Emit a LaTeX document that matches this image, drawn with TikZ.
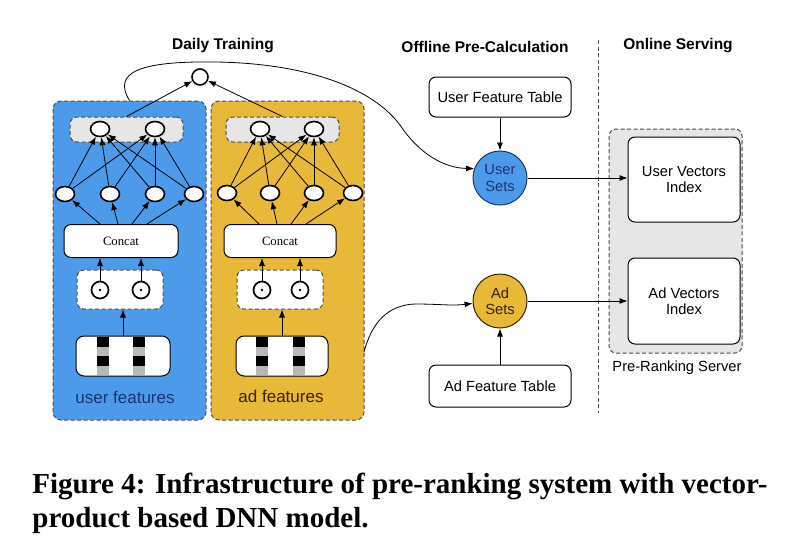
\documentclass[tikz,border=0pt]{standalone}
\usepackage{fontspec}
\setmainfont{Liberation Sans}
\newfontfamily\capfont{Liberation Serif}
\usetikzlibrary{positioning,shapes.geometric,arrows.meta}
\definecolor{userblue}{RGB}{76,155,234}
\definecolor{adyellow}{RGB}{232,184,56}
\definecolor{boxgray}{RGB}{230,230,230}
\definecolor{usertext}{RGB}{28,52,110}
\definecolor{adtext}{RGB}{50,36,10}
\begin{document}
\begin{tikzpicture}[x=1pt, y=-1pt, >={Latex[length=8pt,width=6pt]}, line width=0.8pt,
    panel/.style = {draw=black!70, dash pattern=on 4pt off 2.5pt, rounded corners=8pt, line width=1pt},
    grp/.style = {panel, fill=boxgray, rounded corners=7pt},
    neuron/.style = {draw, ellipse, fill=white, line width=1.6pt, minimum width=19pt, minimum height=15pt, inner sep=0pt},
    dotnode/.style = {draw, circle, fill=white, line width=1.7pt, minimum size=17pt, inner sep=0pt},
    box/.style = {draw, rounded corners=7pt, fill=white, line width=1pt, align=center, font=\fontsize{14.7}{16.5}\selectfont},
    setnode/.style = {draw, circle, line width=1pt, minimum size=54pt, inner sep=0pt, align=center, font=\fontsize{14.7}{16.5}\selectfont},
    title/.style = {font=\bfseries\fontsize{15.5}{18}\selectfont},
    captxt/.style = {anchor=base west, inner sep=0pt, font=\capfont\bfseries\fontsize{29}{35}\selectfont}]
    \useasboundingbox (0,0) rectangle (794,541);

    % daily training
    \node[title] (dt) at (223,46) {Daily Training};
    \node[panel, fill=userblue, minimum width=153pt, minimum height=319pt] (up) at (129.5,260.5) {};
    \node[panel, fill=adyellow, minimum width=153pt, minimum height=319pt] (ap) at (287.5,260.5) {};
    \node[grp, minimum width=113pt, minimum height=25pt] (gu) at (126.5,129.5) {};
    \node[grp, minimum width=113pt, minimum height=25pt] (ga) at (282.5,129.5) {};
    \node[neuron, minimum width=16pt, minimum height=16pt] (out) at (200,77) {};
    \node[neuron] (tu1) at (100,129) {};
    \node[neuron] (tu2) at (155,129) {};
    \node[neuron] (ta1) at (260,129) {};
    \node[neuron] (ta2) at (314,129) {};
    \foreach \k/\x in {1/65,2/110,3/155,4/194}
        \node[neuron] (hu\k) at (\x,194) {};
    \foreach \k/\x in {1/227,2/270,3/314,4/353}
        \node[neuron] (ha\k) at (\x,193) {};
    \node[box, font=\capfont\fontsize{12.7}{14}\selectfont, minimum width=114pt, minimum height=33pt] (cu) at (121,241) {Concat};
    \node[box, font=\capfont\fontsize{12.7}{14}\selectfont, minimum width=112pt, minimum height=33pt] (ca) at (280,241) {Concat};
    \node[panel, fill=white, rounded corners=7pt, minimum width=86pt, minimum height=39pt] (bu) at (120,289.5) {};
    \node[panel, fill=white, rounded corners=7pt, minimum width=86pt, minimum height=39pt] (ba) at (280,289.5) {};
    \node[dotnode] (du1) at (100,290) {};
    \node[dotnode] (du2) at (141,290) {};
    \node[dotnode] (da1) at (262,290) {};
    \node[dotnode] (da2) at (300,290) {};
    \foreach \d in {du1,du2,da1,da2}
        \fill (\d) circle (1.3pt);
    \node[box, rounded corners=8pt, minimum width=94pt, minimum height=40pt] (fu) at (123,356) {};
    \node[box, rounded corners=8pt, minimum width=92pt, minimum height=40pt] (fa) at (282,356) {};
    \foreach \x in {103,139,262,299}
        \foreach \y/\c in {337/black,346.5/black!28,356/black,365.5/black!28}
            \fill[\c] (\x-6,\y) rectangle (\x+6,\y+9.5);
    \node[font=\fontsize{17}{20}\selectfont, text=usertext] (lu) at (125,397) {user features};
    \node[font=\fontsize{17}{20}\selectfont, text=adtext] (la) at (281,396) {ad features};

    \draw[->] (fu.north) -- (fu.north |- bu.south);
    \draw[->] (fa.north) -- (fa.north |- ba.south);
    \foreach \s in {u,a} {
        \draw[->] (d\s1.north) -- (d\s1 |- c\s.south);
        \draw[->] (d\s2.north) -- (d\s2 |- c\s.south);
        \foreach \k/\dx in {1/-21,2/-3,3/11,4/26}
            \draw[->] ([xshift=\dx pt]c\s.north) -- (h\s\k);
        \foreach \k in {1,...,4}
            \foreach \t in {1,2}
                \draw[->] (h\s\k) -- (t\s\t);
        \draw[->] (g\s.north) -- (out);
    }

    % offline pre-calculation
    \node[title] (opc) at (485,47) {Offline Pre-Calculation};
    \node[box, minimum width=142pt, minimum height=40pt] (uft) at (500,97) {User Feature Table};
    \node[setnode, fill=userblue, draw=usertext, text=usertext] (us) at (500,178) {User\\Sets};
    \node[setnode, fill=adyellow, draw=adtext, text=adtext] (as) at (500,301) {Ad\\Sets};
    \node[box, minimum width=142pt, minimum height=42pt] (aft) at (500,386) {Ad Feature Table};
    \coordinate (ya) at (364,352);

    \draw[->] (uft) -- (us);
    \draw[->] (aft) -- (as);
    \draw[->] (up.north) .. controls (112,72) and (140,61) .. (215,62)
        .. controls (300,63) and (370,85) .. (400,125)
        .. controls (420,155) and (445,168) .. (us.160);
    \draw[->] (ya) .. controls (372,322) and (388,305) .. (415,304)
        .. controls (440,304) and (452,306) .. (as.185);

    % online serving
    \draw[dash pattern=on 4pt off 2.5pt, line width=0.8pt, black!70] (598,40) -- (598,413);
    \node[title] (os) at (678,46) {Online Serving};
    \node[grp, minimum width=133pt, minimum height=224pt] (srv) at (675.5,241) {};
    \node[box, minimum width=112pt, minimum height=85pt] (uvi) at (684,179.5) {User Vectors\\Index};
    \node[box, minimum width=112pt, minimum height=86pt] (avi) at (684,301) {Ad Vectors\\Index};
    \node[font=\fontsize{14.7}{16.5}\selectfont] (srvl) at (677,368) {Pre-Ranking Server};

    \draw[->] (us) -- (us -| uvi.west);
    \draw[->] (as) -- (as -| avi.west);

    \node[captxt] (c1) at (32,493) {Figure 4: Infrastructure of pre-ranking system with vector-};
    \node[captxt] (c2) at (32,527) {product based DNN model.};
\end{tikzpicture}
\end{document}
